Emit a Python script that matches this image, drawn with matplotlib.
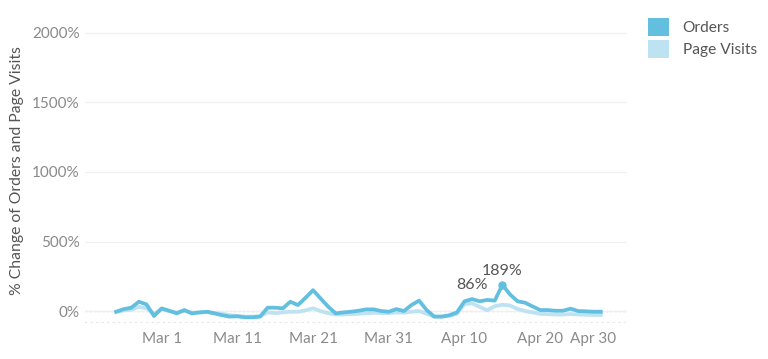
import numpy as np
import pandas as pd
import matplotlib.pyplot as plt
import matplotlib.dates as mdates
from matplotlib.patches import Patch

plt.rcParams["font.family"] = ["Lato", "DejaVu Sans"]

# daily values, Feb 24 .. Apr 28
start_date = "2020-02-24"
orders = [
    -5, 14, 24, 67, 48, -36, 19, 2, -17, 7,
    -17, -10, -5, -17, -30, -40, -38, -45, -45, -40,
    24, 24, 19, 67, 43, 95, 150, 90, 31, -17,
    -10, -5, 2, 12, 12, 0, -5, 14, 0, 43,
    75, 7, -40, -40, -30, -10, 70, 86, 70, 80,
    75, 189, 120, 70, 60, 33, 7, 7, 2, 2,
    17, 0, -2, -5, -5,
]
page_visits = [
    -8, 5, 10, 30, 20, -20, 14, 0, -10, 2,
    -12, -10, -8, -15, -20, -30, -35, -40, -40, -38,
    -10, -15, -10, -5, -5, 5, 20, 0, -15, -25,
    -25, -22, -20, -15, -12, -15, -15, -10, -12, -5,
    0, -20, -40, -40, -35, -20, 50, 55, 30, 5,
    35, 45, 40, 15, 0, -10, -20, -22, -25, -25,
    -22, -25, -27, -28, -28,
]
labelled = {"2020-04-11": "86%", "2020-04-15": "189%"}
marked = ["2020-04-15"]
tick_dates = ["2020-03-01", "2020-03-11", "2020-03-21", "2020-03-31",
              "2020-04-10", "2020-04-20", "2020-04-30"]
tick_labels = ["Mar 1", "Mar 11", "Mar 21", "Mar 31", "Apr 10", "Apr 20", "Apr 30"]

dates = pd.date_range(start_date, periods=len(orders), freq="D")
df = pd.DataFrame({"orders": orders, "visits": page_visits}, index=dates)

c_orders = "#62bfdf"
c_visits = "#bde2f1"

fig = plt.figure(figsize=(7.68, 3.59), dpi=100)
ax = fig.add_axes([0.111, 0.103, 0.705, 0.844])

ax.plot(df.index, df["visits"], color=c_visits, linewidth=2.7, solid_joinstyle="round")
ax.plot(df.index, df["orders"], color=c_orders, linewidth=2.7, solid_joinstyle="round")

for d in marked:
    t = pd.Timestamp(d)
    ax.plot([t], [df.loc[t, "orders"]], "o", color=c_orders, markersize=5)

for d, txt in labelled.items():
    t = pd.Timestamp(d)
    v = df.loc[t, "orders"]
    ax.annotate(txt, (t, v), xytext=(0, 5), textcoords="offset points",
                ha="center", va="bottom", fontsize=11.5, color="#555555")

ax.axhline(0, color="#b0b0b0", linewidth=0.9, linestyle=(0, (1.5, 2)), zorder=0)

ax.set_ylim(-79, 2100)
ax.set_yticks([0, 500, 1000, 1500, 2000])
ax.set_yticklabels(["0%", "500%", "1000%", "1500%", "2000%"])
ax.yaxis.grid(True, color="#f0f0f0", linewidth=0.9)
ax.set_axisbelow(True)

ax.set_xlim(pd.Timestamp("2020-02-19 22:00"), pd.Timestamp("2020-05-01 10:00"))
ax.set_xticks([pd.Timestamp(d) for d in tick_dates])
ax.set_xticklabels(tick_labels)
ax.get_xticklabels()[-1].set_horizontalalignment("right")

ax.tick_params(axis="both", length=0, labelsize=11, labelcolor="#8a8a8a")
ax.tick_params(axis="x", pad=7)
ax.tick_params(axis="y", pad=4)

for s in ["top", "right", "left"]:
    ax.spines[s].set_visible(False)
ax.spines["bottom"].set_color("#e6e6e6")
ax.spines["bottom"].set_linestyle((0, (1, 4)))

ax.set_ylabel("% Change of Orders and Page Visits", fontsize=11.3, color="#555555", labelpad=6)

handles = [Patch(facecolor=c_orders, edgecolor="none", label="Orders"),
           Patch(facecolor=c_visits, edgecolor="none", label="Page Visits")]
fig.legend(handles=handles, loc="upper left", bbox_to_anchor=(0.826, 0.99),
           frameon=False, fontsize=11.2, labelcolor="#555555",
           handlelength=1.35, handleheight=1.4, handletextpad=0.85, labelspacing=0.3)

fig.savefig("out.png", dpi=100)
